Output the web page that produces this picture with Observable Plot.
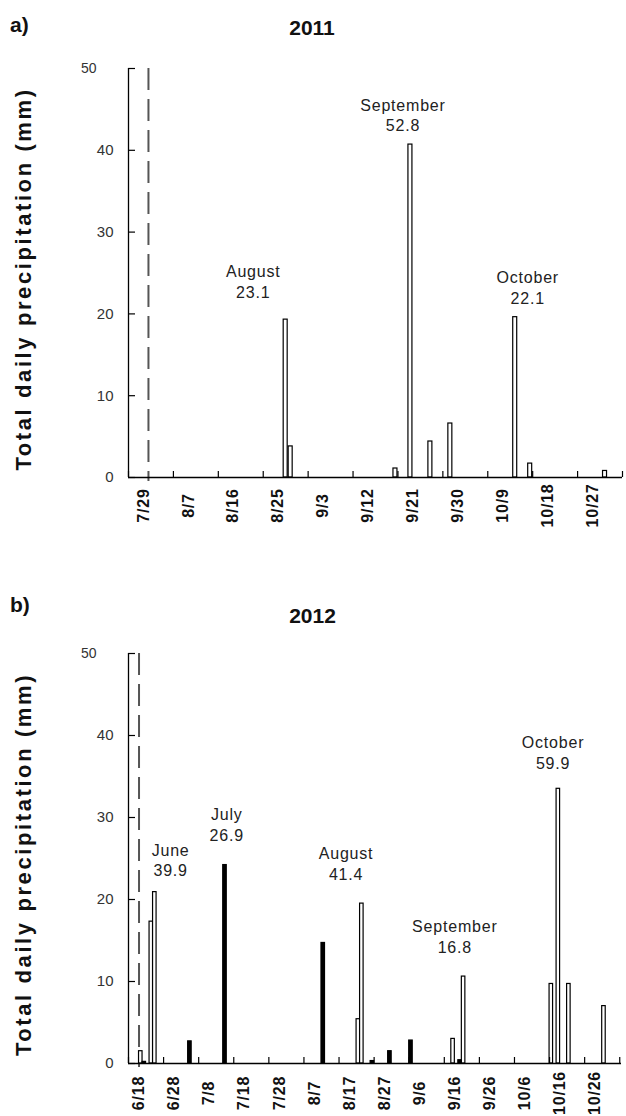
<!DOCTYPE html>
<html><head><meta charset="utf-8">
<script src="https://cdn.jsdelivr.net/npm/d3@7"></script>
<script src="https://cdn.jsdelivr.net/npm/@observablehq/plot@0.6"></script>
<style>
body{margin:0;background:#fff;}
#fig{position:relative;width:626px;height:1116px;font-family:"Liberation Sans",Arial,sans-serif;background:#fff;overflow:hidden;}
.hdr{position:absolute;font-weight:bold;font-size:21px;line-height:1;color:#111;white-space:nowrap;}
.box{position:absolute;left:0;}
</style></head><body>
<div id="fig">
  <div class="hdr" style="left:10px;top:14px">a)</div>
  <div class="hdr" style="left:0;width:624px;text-align:center;top:17px">2011</div>
  <div id="pa" class="box" style="top:40px"></div>
  <div class="hdr" style="left:10px;top:594px">b)</div>
  <div class="hdr" style="left:0;width:625px;text-align:center;top:605px">2012</div>
  <div id="pb" class="box" style="top:630px"></div>
</div>
<script>
// ---------- Panel a (2011) ----------
const yearA = 2011;
const rainDatesA = ["8/26","8/27","9/17","9/20","9/24","9/28","10/11","10/14","10/29"];
const rainMmA    = [19.3, 3.8, 1.1, 40.7, 4.4, 6.6, 19.6, 1.7, 0.8];
const barKindA   = ["open","open","open","open","open","open","open","open","open"];
const tickLabelsA = ["7/29","8/7","8/16","8/25","9/3","9/12","9/21","9/30","10/9","10/18","10/27"];
const monthNamesA  = ["August","September","October"];
const monthTotalsA = [23.1, 52.8, 22.1];
const monthLabelDateA = ["8/20","9/19","10/14"];
const monthLabelMmA   = [24.0, 44.4, 23.3];
const startLineA = "7/30";
const xDomainA = ["2011-07-26T00:00Z","2011-11-02T00:00Z"];
const tickStepA = 9;

// ---------- Panel b (2012) ----------
const yearB = 2012;
const rainDatesB = ["6/18","6/19","6/21","6/22","7/2","7/12","8/9","8/19","8/20","8/23","8/28","9/3","9/15","9/17","9/18","10/13","10/15","10/18","10/28"];
const rainMmB    = [1.5, 0.2, 17.3, 20.9, 2.7, 24.2, 14.7, 5.4, 19.5, 0.3, 1.5, 2.8, 3.0, 0.4, 10.6, 9.7, 33.5, 9.7, 7.0];
const barKindB   = ["open","solid","open","open","solid","solid","solid","open","open","solid","solid","solid","open","solid","open","open","open","open","open"];
const tickLabelsB = ["6/18","6/28","7/8","7/18","7/28","8/7","8/17","8/27","9/6","9/16","9/26","10/6","10/16","10/26"];
const monthNamesB  = ["June","July","August","September","October"];
const monthTotalsB = [39.9, 26.9, 41.4, 16.8, 59.9];
const monthLabelDateB = ["6/27","7/13","8/16","9/16","10/14"];
const monthLabelMmB   = [24.9, 29.2, 24.5, 15.6, 38.0];
const startLineB = "6/18";
const xDomainB = ["2012-06-15T00:00Z","2012-11-02T12:00Z"];
const tickStepB = 10;

const yTicks = [0, 10, 20, 30, 40, 50];
const yTitle = "Total daily precipitation (mm)";
const FONT = '"Liberation Sans", Arial, sans-serif';

function makePanel(cfg) {
  const md = s => { const [m, d] = s.split("/").map(Number); return new Date(Date.UTC(cfg.year, m - 1, d)); };
  const bars = cfg.dates.map((s, i) => ({date: md(s), next: d3.utcDay.offset(md(s), 1), mm: cfg.values[i], kind: cfg.kinds[i]}));
  const open = bars.filter(d => d.kind === "open");
  const solid = bars.filter(d => d.kind === "solid");
  const labelDates = cfg.tickLabels.map(md);
  const x0 = new Date(cfg.domain[0]), x1 = new Date(cfg.domain[1]);
  const tickMarks = d3.utcDay.range(x0, d3.utcDay.offset(x1, 1), cfg.step);
  const months = cfg.months.map((m, i) => ({date: md(cfg.labelDates[i]), mm: cfg.labelMm[i], text: `${m}\n${cfg.totals[i].toFixed(1)}`}));
  const width = 626, marginLeft = 128;
  const frameW = width - marginLeft - cfg.marginRight;
  const frameH = cfg.height - cfg.marginTop - cfg.marginBottom;

  const svg = Plot.plot({
    width, height: cfg.height,
    marginLeft, marginRight: cfg.marginRight, marginTop: cfg.marginTop, marginBottom: cfg.marginBottom,
    style: {fontFamily: FONT, background: "white", overflow: "visible"},
    x: {type: "utc", domain: [x0, x1], axis: null},
    y: {domain: [0, 50]},
    marks: [
      Plot.ruleX([md(cfg.startLine)], {y1: 50, y2: 0, stroke: "#555", strokeWidth: 2, strokeDasharray: "22,9", insetBottom: -4}),
      Plot.rect(open, {x1: "date", x2: "next", y1: 0, y2: "mm", fill: "#fff", stroke: "#000", strokeWidth: 1.2, insetLeft: cfg.inset, insetRight: cfg.inset}),
      Plot.rect(solid, {x1: "date", x2: "next", y1: 0, y2: "mm", fill: "#000", stroke: "#000", strokeWidth: 1.2, insetLeft: cfg.inset, insetRight: cfg.inset}),
      Plot.ruleY([0], {stroke: "#000", strokeWidth: 1.3}),
      Plot.ruleX([x0], {y1: 0, y2: 50, stroke: "#000", strokeWidth: 1.3}),
      Plot.tickY(yTicks, {y: d => d, insetRight: frameW - 7, stroke: "#000", strokeWidth: 1.2}),
      Plot.tickX(tickMarks, {x: d => d, insetTop: frameH - 6, stroke: "#000", strokeWidth: 1.2}),
      Plot.axisY(yTicks.slice(0, -1), {tickSize: 0, tickPadding: 15, fontSize: 15, color: "#333", label: null}),
      Plot.axisY(yTicks.slice(-1), {tickSize: 0, tickPadding: 32, fontSize: 14, color: "#333", label: null}),
      Plot.text(labelDates, {x: d => d, text: (d, i) => cfg.tickLabels[i], frameAnchor: "bottom", dy: cfg.xLabelDy, rotate: -90,
        textAnchor: "middle", lineAnchor: "middle", fontSize: 16, fontWeight: "bold", fill: "#111", className: "xlab"}),
      Plot.text(months, {x: "date", y: "mm", text: "text", fontSize: 16, lineHeight: 1.3, lineAnchor: "middle",
        textAnchor: "middle", fill: "#222", className: "monthlab"}),
      Plot.text([yTitle], {text: d => d, frameAnchor: "left", dx: -105, dy: 6, rotate: -90, textAnchor: "middle",
        lineAnchor: "middle", fontSize: 22, fontWeight: "bold", fill: "#111", className: "ytitle"})
    ]
  });
  const s = d3.select(svg);
  s.selectAll(".monthlab text").style("letter-spacing", "0.8px");
  s.selectAll(".ytitle text").style("letter-spacing", "2.6px");
  s.selectAll(".xlab text").style("letter-spacing", "0.8px");
  return svg;
}

document.getElementById("pa").append(makePanel({
  year: yearA, dates: rainDatesA, values: rainMmA, kinds: barKindA, tickLabels: tickLabelsA,
  months: monthNamesA, totals: monthTotalsA, labelDates: monthLabelDateA, labelMm: monthLabelMmA,
  startLine: startLineA, domain: xDomainA, step: tickStepA,
  height: 520, marginTop: 28, marginBottom: 83, marginRight: 4, inset: 0.5, xLabelDy: 28
}));
document.getElementById("pb").append(makePanel({
  year: yearB, dates: rainDatesB, values: rainMmB, kinds: barKindB, tickLabels: tickLabelsB,
  months: monthNamesB, totals: monthTotalsB, labelDates: monthLabelDateB, labelMm: monthLabelMmB,
  startLine: startLineB, domain: xDomainB, step: tickStepB,
  height: 486, marginTop: 23, marginBottom: 53, marginRight: 5, inset: 0, xLabelDy: 29.5
}));
</script>
</body></html>
